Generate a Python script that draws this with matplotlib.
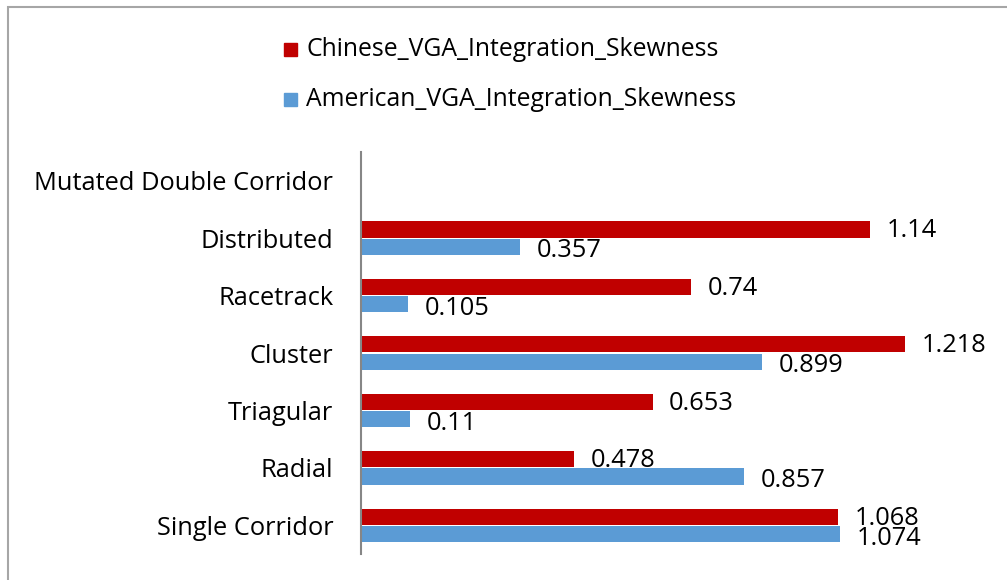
import matplotlib
matplotlib.use("Agg")
import matplotlib.pyplot as plt
from matplotlib.patches import Rectangle
import numpy as np

plt.rcParams['font.family'] = ['Open Sans', 'DejaVu Sans']

categories = ["Single Corridor", "Radial", "Triagular", "Cluster",
              "Racetrack", "Distributed", "Mutated Double Corridor"]
chinese = [1.068, 0.478, 0.653, 1.218, 0.74, 1.14, None]
american = [1.074, 0.857, 0.11, 0.899, 0.105, 0.357, None]
chinese_labels = ["1.068", "0.478", "0.653", "1.218", "0.74", "1.14", None]
american_labels = ["1.074", "0.857", "0.11", "0.899", "0.105", "0.357", None]
series_names = ["Chinese_VGA_Integration_Skewness", "American_VGA_Integration_Skewness"]

RED = "#C00000"
BLUE = "#5B9BD5"

W, H = 1007, 580
fig = plt.figure(figsize=(W / 100, H / 100), dpi=100)

# outer chart frame
fig.patches.append(Rectangle((8 / W, -0.1), 1.2, 1 - 7 / H + 0.1,
                             transform=fig.transFigure, fill=False,
                             edgecolor="#A6A6A6", linewidth=1.5))

ax_left, ax_right = 361 / W, 986 / W
ax_top, ax_bot = 1 - 152 / H, 1 - 554 / H
ax = fig.add_axes([ax_left, ax_bot, ax_right - ax_left, ax_top - ax_bot])

y = np.arange(len(categories))
bh = 0.28
gap = 0.02
FS = 18.3
for i in range(len(categories)):
    if chinese[i] is not None:
        ax.annotate(chinese_labels[i], (chinese[i], y[i] + (bh + gap) / 2),
                    xytext=(12, -1.0), textcoords="offset points",
                    ha="left", va="center", fontsize=FS, color="#000000")
        ax.barh(y[i] + (bh + gap) / 2, chinese[i], height=bh, color=RED)
    if american[i] is not None:
        ax.barh(y[i] - (bh + gap) / 2, american[i], height=bh, color=BLUE)
        ax.annotate(american_labels[i], (american[i], y[i] - (bh + gap) / 2),
                    xytext=(12, -3.0), textcoords="offset points",
                    ha="left", va="center", fontsize=FS, color="#000000")

ax.set_ylim(-0.5, len(categories) - 0.5)
ax.set_xlim(0, 1.4)
ax.set_yticks(y)
ax.set_yticklabels(categories, fontsize=FS)
ax.tick_params(axis="y", length=0, pad=20)
ax.set_xticks([])
for s in ["top", "right", "bottom"]:
    ax.spines[s].set_visible(False)
ax.spines["left"].set_color("#868686")
ax.spines["left"].set_linewidth(1.5)

# legend
for j, (name, col) in enumerate(zip(series_names, [RED, BLUE])):
    yy = 1 - (50 + 50 * j) / H
    fig.patches.append(Rectangle((284 / W, yy - 6 / H), 13 / W, 13 / H,
                                 transform=fig.transFigure, color=col))
    fig.text(306 / W, yy, name, fontsize=FS - 0.5, va="center", ha="left")

fig.savefig("out.png", dpi=100)
